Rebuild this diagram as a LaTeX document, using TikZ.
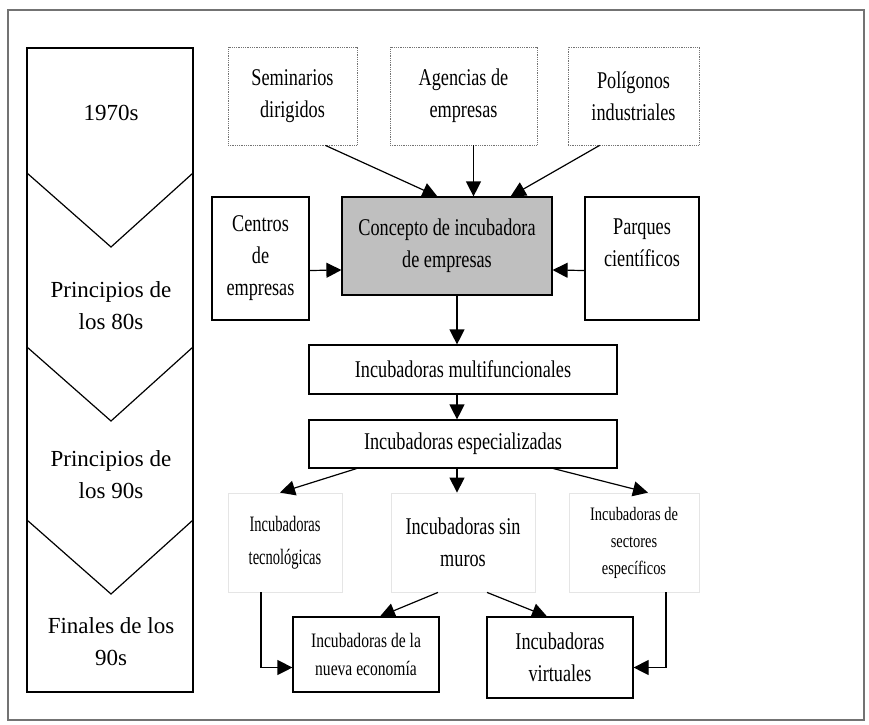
\documentclass[tikz,border=0pt]{standalone}
\usepackage{fontspec}
\setmainfont{Liberation Serif}
\newfontfamily\narrowfont[FakeStretch=0.76]{Liberation Serif}
\newfontfamily\tightfont[FakeStretch=0.66]{Liberation Serif}
\usetikzlibrary{arrows.meta}
\begin{document}
\begin{tikzpicture}[x=1pt, y=-1pt,
    box/.style={draw, line width=1.2pt, align=center, inner sep=0pt,
      font=\narrowfont\fontsize{24}{32}\selectfont},
    faint/.style={box, draw=black!55, line width=0.8pt, densely dotted},
    ghost/.style={box, draw=black!10, line width=0.8pt},
    era/.style={align=center, font=\fontsize{23}{32}\selectfont},
    arr/.style={line width=1.2pt, -{Triangle[length=15pt, width=15pt]}},
  ]
  \useasboundingbox (0,0) rectangle (869,724);
  \draw[black!55, line width=1.6pt] (8,10) rectangle (864,720);

  % timeline on the left
  \draw[line width=1.2pt] (27,48) rectangle (193,692);
  \foreach \y in {173, 347, 520}
    \draw[line width=1.2pt] (27,\y) -- (111,\y+74) -- (193,\y);
  \node[era] (e70) at (111,113) {1970s};
  \node[era] (e80) at (111,306) {Principios de\\los 80s};
  \node[era] (e90) at (111,475) {Principios de\\los 90s};
  \node[era] (e99) at (111,642) {Finales de los\\90s};

  % origins
  \node[faint, minimum width=129pt, minimum height=98pt] (seminarios) at (292.5,96) {Seminarios\\dirigidos};
  \node[faint, minimum width=147pt, minimum height=98pt] (agencias) at (463.5,96) {Agencias de\\empresas};
  \node[faint, minimum width=131pt, minimum height=98pt] (poligonos) at (633.5,96) {Polígonos\\industriales};
  \node[box, minimum width=97pt, minimum height=123pt] (centros) at (260.5,258.5) {Centros\\de\\empresas};
  \node[box, fill=black!25, minimum width=210pt, minimum height=98pt] (concepto) at (447,246) {Concepto de incubadora\\de empresas};
  \node[box, minimum width=114pt, minimum height=123pt] (parques) at (642,258.5) {Parques\\científicos\\\mbox{}};

  % generations
  \node[box, minimum width=308pt, minimum height=49pt] (multi) at (463,369.5) {Incubadoras multifuncionales};
  \node[box, minimum width=308pt, minimum height=48pt] (espec) at (463,444) {Incubadoras especializadas};
  \node[ghost, font=\tightfont\fontsize{22}{33}\selectfont, minimum width=114pt, minimum height=99pt] (tecno) at (285,542.5) {Incubadoras\\tecnológicas};
  \node[ghost, minimum width=144pt, minimum height=99pt] (sinmuros) at (463,542.5) {Incubadoras sin\\muros};
  \node[ghost, font=\narrowfont\fontsize{19}{27}\selectfont, minimum width=130pt, minimum height=99pt] (sectores) at (634,542.5) {Incubadoras de\\sectores\\específicos};
  \node[box, font=\narrowfont\fontsize{20.5}{28}\selectfont, minimum width=146pt, minimum height=75pt] (nueva) at (366,654.5) {Incubadoras de la\\nueva economía};
  \node[box, minimum width=146pt, minimum height=81pt] (virtuales) at (560,657.5) {Incubadoras\\virtuales};

  \draw[arr] ([xshift=-32pt]seminarios.south east) -- ([xshift=96pt]concepto.north west);
  \draw[arr] ([xshift=10pt]agencias.south) -- ([xshift=10pt]agencias.south |- concepto.north);
  \draw[arr] ([xshift=32pt]poligonos.south west) -- ([xshift=-42pt]concepto.north east);
  \draw[arr] ([yshift=-12pt]centros.east) -- ([yshift=-24pt]concepto.west);
  \draw[arr] ([yshift=-12pt]parques.west) -- ([yshift=-24pt]concepto.east);
  \draw[arr] ([xshift=10pt]concepto.south) -- ([xshift=-6pt]multi.north);
  \draw[arr] ([xshift=-6pt]multi.south) -- ([xshift=-6pt]espec.north);
  \draw[arr] ([xshift=48pt]espec.south west) -- ([xshift=-5pt]tecno.north);
  \draw[arr] ([xshift=-6pt]espec.south) -- ([xshift=-6pt]sinmuros.north);
  \draw[arr] ([xshift=-64pt]espec.south east) -- ([xshift=14pt]sectores.north);
  \draw[arr] ([xshift=-25pt]sinmuros.south) -- ([xshift=14pt]nueva.north);
  \draw[arr] ([xshift=24pt]sinmuros.south) -- ([xshift=-13pt]virtuales.north);
  \draw[arr] ([xshift=-24pt]tecno.south) |- ([yshift=-13pt]nueva.west);
  \draw[arr] ([xshift=32pt]sectores.south) |- ([yshift=-10pt]virtuales.east);
\end{tikzpicture}
\end{document}
